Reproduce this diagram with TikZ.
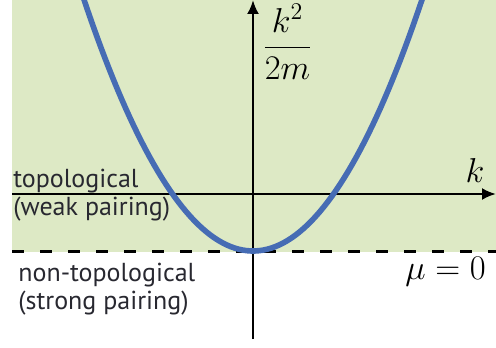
\documentclass[tikz,border=0pt]{standalone}
\usepackage{amsmath}
\usepackage{fontspec}
\setmainfont{PT Sans}
\usetikzlibrary{
    positioning,
    arrows.meta
}
\definecolor{verdefondo}{RGB}{221,233,197}
\definecolor{azulcurva}{RGB}{70,108,180}
\definecolor{textogris}{RGB}{40,40,48}
\tikzset{
    >=Latex,
    eje/.style={
        ->,
        line width=1.25pt,
        >={Latex[length=7pt,width=6pt]}
    },
    fase/.style={
        align=left,
        inner sep=0pt,
        text=textogris,
        font=\fontsize{13}{14}\selectfont
    },
    etiqueta/.style={
        inner sep=0pt,
        font=\fontsize{17.5}{21}\selectfont
    }
}

\begin{document}
\begin{tikzpicture}[
    x=0.5pt,
    y=0.5pt
]

    \useasboundingbox (0,0) rectangle (496,347);

    % Fondo
    \fill[verdefondo] (12,95) rectangle (496,347);

    % Puntos
    \coordinate (ejeizq) at (12,153);
    \coordinate (ejeder) at (496,153);
    \coordinate (ejeabajo) at (253,8);
    \coordinate (ejearriba) at (253,347);
    \coordinate (muizq) at (12,95);
    \coordinate (muder) at (496,95);

    % Nivel mu = 0
    \draw[line width=1.5pt, dash pattern=on 6pt off 8pt] (muizq) -- (muder);

    % Ejes
    \draw[eje] (ejeizq) -- (ejeder);
    \draw[eje] (ejeabajo) -- (ejearriba);

    % Parabola
    \begin{scope}
        \clip (0,0) rectangle (496,347);
        \draw[azulcurva, line width=2.8pt]
            plot[domain=-1.8:1.8, samples=90] ({100*\x+253}, {96+88*\x*\x});
    \end{scope}

    % Etiquetas
    \node[etiqueta, anchor=west] (energia) at (262,305) {$\dfrac{k^2}{2m}$};
    \node[etiqueta] (k) at (475,176) {$k$};
    \node[etiqueta, anchor=base west, font=\fontsize{18.5}{21}\selectfont]
        (mu) at (405,68) {$\mu=0$};
    \node[fase, anchor=west] (topo) at (13,152)
        {topological\\(weak pairing)};
    \node[fase, anchor=west] (notopo) at (18,58)
        {non-topological\\(strong pairing)};

\end{tikzpicture}
\end{document}
